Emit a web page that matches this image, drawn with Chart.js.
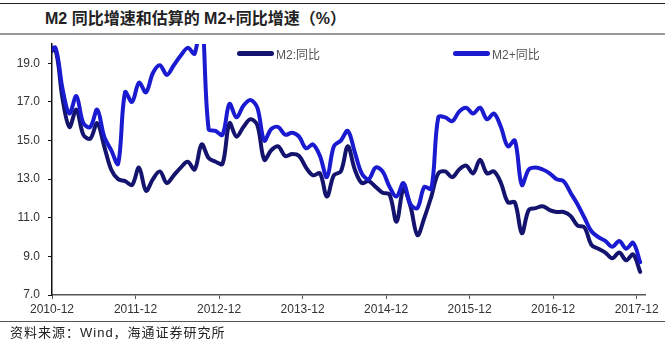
<!DOCTYPE html>
<html>
<head>
<meta charset="utf-8">
<script src="https://cdn.jsdelivr.net/npm/chart.js@4/dist/chart.umd.min.js"></script>
<style>
body { margin: 0; background: #fff; }
#wrap { position: relative; width: 665px; height: 345px; overflow: hidden; font-family: "Liberation Sans", Arial, "Noto Sans CJK SC", sans-serif; }
#topline { position: absolute; left: 0; top: 3px; width: 665px; height: 1px; background: #222; }
#title { position: absolute; left: 45px; top: 9px; line-height: 20px; font-size: 16px; font-weight: bold; color: #222; white-space: nowrap; }
#titleline { position: absolute; left: 0; top: 33px; width: 665px; height: 2px; background: #9a9a9a; }
#botline { position: absolute; left: 0; top: 321px; width: 665px; height: 1px; background: #555; }
#source { position: absolute; left: 10px; top: 325px; line-height: 16px; font-size: 13px; letter-spacing: 1px; color: #222; white-space: nowrap; }
canvas { position: absolute; left: 0; top: 0; }
.leg { position: absolute; top: 46px; height: 14px; font-size: 12px; color: #555; display: flex; align-items: center; white-space: nowrap; }
.leg i { display: inline-block; width: 37px; height: 5px; border-radius: 3px; margin-right: 2px; }
</style>
</head>
<body>
<div id="wrap">
  <div id="topline"></div>
  <div id="title">M2 同比增速和估算的 M2+同比增速（%）</div>
  <div id="titleline"></div>
  <canvas id="chart" width="665" height="345"></canvas>
  <div class="leg" style="left:237px"><i style="background:#14146e"></i>M2:同比</div>
  <div class="leg" style="left:453px"><i style="background:#1a1ad0"></i>M2+同比</div>
  <div id="botline"></div>
  <div id="source">资料来源：Wind，海通证券研究所</div>
</div>
<script>
// 月度数据 2010-11 ~ 2017-12
const m2 = [
  19.5, 19.7,
  17.2, 15.7, 16.6, 15.3, 15.1, 15.9, 14.7, 13.5, 13.0, 12.9, 12.7, 13.6,
  12.4, 13.0, 13.4, 12.8, 13.2, 13.6, 13.9, 13.5, 14.8, 14.1, 13.9, 13.8,
  15.9, 15.2, 15.7, 16.1, 15.8, 14.0, 14.5, 14.7, 14.2, 14.3, 14.2, 13.6,
  13.2, 13.3, 12.1, 13.2, 13.4, 14.7, 13.5, 12.8, 12.9, 12.6, 12.3, 12.2,
  10.8, 12.5, 11.6, 10.1, 11.0, 12.1, 13.3, 13.4, 13.1, 13.5, 13.7, 13.3,
  14.0, 13.3, 13.4, 12.8, 11.8, 11.8, 10.2, 11.4, 11.5, 11.6, 11.4, 11.3,
  11.3, 11.1, 10.6, 10.5, 9.6, 9.4, 9.2, 8.9, 9.2, 8.8, 9.1, 8.2
];
const m2Plus = [
  19.6, 19.8,
  17.7, 16.4, 17.3, 15.9, 15.7, 16.6, 15.2, 14.5, 13.8, 17.5, 17.0, 18.0,
  17.5, 18.5, 18.9, 18.4, 18.9, 19.4, 19.8, 19.5, 21.5, 15.6, 15.5, 15.3,
  16.9, 16.2, 16.8, 17.1, 16.7, 15.0, 15.6, 15.7, 15.3, 15.4, 15.2, 14.6,
  14.8, 14.2, 13.1, 14.7, 15.0, 15.5, 14.4, 13.3, 13.0, 13.6, 13.4, 12.6,
  12.1, 12.8, 11.7, 11.5, 12.6, 12.5, 16.2, 16.2, 16.0, 16.5, 16.7, 16.4,
  16.7, 16.1, 16.4, 15.7, 14.7, 15.0, 12.7, 13.5, 13.6, 13.5, 13.3, 13.0,
  12.9, 12.3, 11.7, 11.0, 10.3, 10.0, 9.8, 9.5, 9.8, 9.4, 9.7, 8.7
];
// 刻度位于月初（以 2010-12 月初为 0），数据点画在月中
const xTickIdx = [0, 12, 24, 36, 48, 60, 72, 84];
const xTickLabels = ['2010-12', '2011-12', '2012-12', '2013-12', '2014-12', '2015-12', '2016-12', '2017-12'];
const yTicks = [7, 9, 11, 13, 15, 17, 19];

const toPoints = arr => arr.map((v, i) => ({ x: i - 0.5, y: v }));
const tickFont = { family: '"Liberation Sans", Arial, sans-serif', size: 12 };

new Chart(document.getElementById('chart'), {
  type: 'line',
  data: {
    datasets: [
      {
        label: 'M2+同比',
        data: toPoints(m2Plus),
        borderColor: '#1a1ad0',
        borderWidth: 4,
        pointRadius: 0,
        tension: 0.35,
        borderCapStyle: 'round',
        borderJoinStyle: 'round',
        fill: false,
        clip: 0
      },
      {
        label: 'M2:同比',
        data: toPoints(m2),
        borderColor: '#14146e',
        borderWidth: 4,
        pointRadius: 0,
        tension: 0.35,
        borderCapStyle: 'round',
        borderJoinStyle: 'round',
        fill: false,
        clip: 0
      }
    ]
  },
  options: {
    responsive: false,
    animation: false,
    layout: { padding: { left: 0, right: 20, top: 44, bottom: 0 } },
    plugins: { legend: { display: false }, tooltip: { enabled: false } },
    scales: {
      x: {
        type: 'linear',
        min: 0,
        max: 85.2,
        afterBuildTicks: s => { s.ticks = xTickIdx.map(v => ({ value: v })); },
        afterFit: s => { s.height = 50; },
        ticks: {
          callback: v => xTickLabels[xTickIdx.indexOf(v)],
          font: tickFont,
          color: '#333',
          padding: 3,
          maxRotation: 0,
          autoSkip: false
        },
        grid: { drawOnChartArea: false, tickLength: 4, color: '#555' },
        border: { color: '#555', width: 1.5 }
      },
      y: {
        min: 7,
        max: 20,
        afterBuildTicks: s => { s.ticks = yTicks.map(v => ({ value: v })); },
        afterFit: s => { s.width = 52; },
        ticks: {
          callback: v => v.toFixed(1),
          font: tickFont,
          color: '#333',
          padding: 8
        },
        grid: { drawOnChartArea: false, tickLength: 4, color: '#111' },
        border: { color: '#111', width: 1.5 }
      }
    }
  }
});
</script>
</body>
</html>
